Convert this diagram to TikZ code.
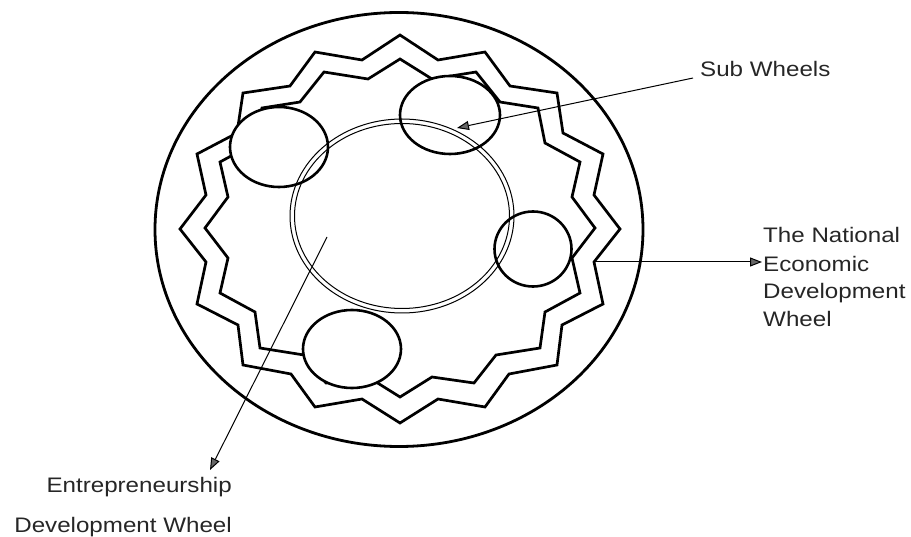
\documentclass[tikz,border=0pt]{standalone}
\usepackage{fontspec}
\newfontfamily\labfont[FakeStretch=1.15]{Liberation Sans}
\usetikzlibrary{arrows.meta}
\begin{document}
\begin{tikzpicture}[x=1pt,y=-1pt,
  rim/.style={line width=2.8pt},
  zig/.style={line width=2.7pt, line join=miter},
  subwheel/.style={line width=2.6pt, fill=white},
  ring/.style={line width=1pt},
  lead/.style={line width=1pt, -{Triangle[length=12pt,width=9pt,fill=black!60]}},
  lab/.style={font=\labfont\fontsize{21}{24}\selectfont, text=black!85, inner sep=0pt}]
\useasboundingbox (0,0) rectangle (911,537);
% outer wheel
\coordinate (c) at (399,229.5);
\draw[rim] (c) ellipse [x radius=244pt, y radius=217pt];
% outer zigzag
\draw[zig] (400,35) -- (438,60) -- (485,52) -- (510,86) -- (557,93) -- (563,133) -- (603,154) -- (594,195)
  -- (620,229) -- (594,262) -- (603,304) -- (562,325) -- (557,365) -- (509,374) -- (485,407) -- (438,399)
  -- (400,423) -- (362,399) -- (315,407) -- (291,374) -- (243,365) -- (238,325) -- (197,304) -- (206,262)
  -- (180,229) -- (206,195) -- (197,154) -- (237,133) -- (243,93) -- (290,86) -- (315,52) -- (362,60) -- cycle;
% inner zigzag
\draw[zig] (400,59) -- (432,79) -- (476,72) -- (500,102) -- (538,108) -- (545,143) -- (580,162) -- (572,197)
  -- (595,228) -- (572,258) -- (580,293) -- (545,312) -- (540,348) -- (496,355) -- (474,383) -- (432,377)
  -- (400,397) -- (368,377) -- (326,383) -- (304,355) -- (260,348) -- (255,312) -- (220,293) -- (228,258)
  -- (205,228) -- (228,197) -- (220,162) -- (255,143) -- (262,108) -- (300,102) -- (324,72) -- (368,79) -- cycle;
% sub wheels
\coordinate (sw1) at (450,115);
\coordinate (sw2) at (279,147);
\coordinate (sw3) at (533,249);
\coordinate (sw4) at (352,349);
\draw[subwheel] (sw1) ellipse [x radius=50pt, y radius=39pt];
\draw[subwheel] (sw2) ellipse [x radius=49pt, y radius=40pt];
\draw[subwheel] (sw3) ellipse [x radius=38.5pt, y radius=37.5pt];
\draw[subwheel] (sw4) ellipse [x radius=49pt, y radius=39pt];
% entrepreneurship development wheel (double ring)
\coordinate (ew) at (402,216);
\draw[ring] (ew) ellipse [x radius=112pt, y radius=97pt];
\draw[ring] (ew) ellipse [x radius=107.5pt, y radius=92.5pt];
% labels
\node[lab, anchor=base west] (subt) at (700,77) {Sub Wheels};
\node[lab, anchor=base west] (nat1) at (763,243) {The National};
\node[lab, anchor=base west] (nat2) at (763,272) {Economic};
\node[lab, anchor=base west] (nat3) at (763,299) {Development};
\node[lab, anchor=base west] (nat4) at (763,327) {Wheel};
\node[lab, anchor=base east] (ent1) at (232,493) {Entrepreneurship};
\node[lab, anchor=base east] (ent2) at (232,532) {Development Wheel};
% leaders
\coordinate (subfrom) at (693,78);
\coordinate (subto) at (457,128);
\coordinate (natfrom) at (595,262);
\coordinate (natto) at (762,262);
\coordinate (entfrom) at (327,237);
\coordinate (entto) at (210,470);
\draw[lead] (subfrom) -- (subto);
\draw[lead] (natfrom) -- (natto);
\draw[lead] (entfrom) -- (entto);
\end{tikzpicture}
\end{document}
